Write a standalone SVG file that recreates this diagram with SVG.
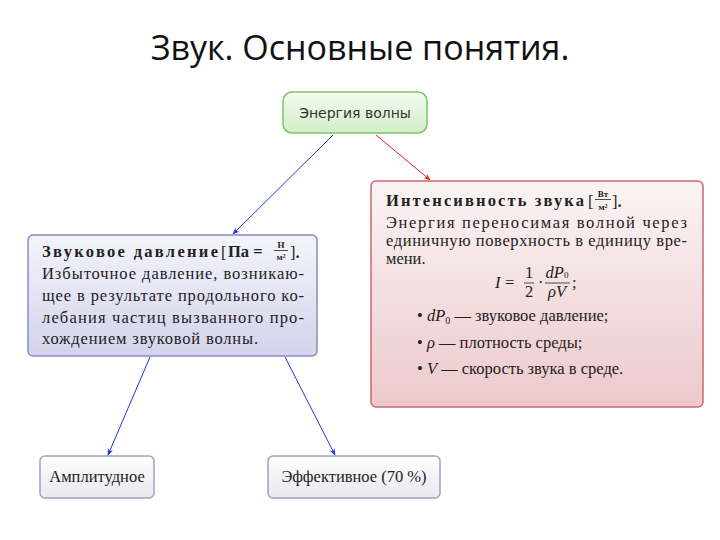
<svg xmlns="http://www.w3.org/2000/svg" width="720" height="540" viewBox="0 0 720 540">
<style>
.s{font-family:"Liberation Serif",serif;font-size:16.5px;fill:#222}
.b{font-weight:bold}
.i{font-style:italic}
.f{font-family:"Liberation Serif",serif;font-size:9px;font-weight:bold;fill:#222}
.n{font-family:"DejaVu Sans","Liberation Sans",sans-serif;font-size:14px;fill:#333}
</style>
<defs>
<linearGradient id="gg" x1="0" y1="0" x2="0" y2="1"><stop offset="0" stop-color="#f3fbf0"/><stop offset="1" stop-color="#d2efc8"/></linearGradient>
<linearGradient id="gr" x1="0" y1="0" x2="0" y2="1"><stop offset="0" stop-color="#fbf4f4"/><stop offset="1" stop-color="#ecc9cc"/></linearGradient>
<linearGradient id="gb" x1="0" y1="0" x2="0" y2="1"><stop offset="0" stop-color="#f4f4fb"/><stop offset="1" stop-color="#d3d3ec"/></linearGradient>
<linearGradient id="gw" x1="0" y1="0" x2="0" y2="1"><stop offset="0" stop-color="#ffffff"/><stop offset="1" stop-color="#e8e8ee"/></linearGradient>
<marker id="ab" viewBox="0 0 10 10" refX="9" refY="5" markerWidth="7" markerHeight="7" orient="auto"><path d="M0,1 L10,5 L0,9 L3,5 Z" fill="#2233dd"/></marker>
<marker id="ar" viewBox="0 0 10 10" refX="9" refY="5" markerWidth="7" markerHeight="7" orient="auto"><path d="M0,1 L10,5 L0,9 L3,5 Z" fill="#dd2222"/></marker>
</defs>
<rect width="720" height="540" fill="#fff"/>
<text x="360" y="60" text-anchor="middle" font-family="'Open Sans',sans-serif" font-size="34" fill="#111">Звук. Основные понятия.</text>
<g id="connectors" fill="none" stroke-width="1">
<line x1="333" y1="135" x2="233" y2="234" stroke="#2233dd" marker-end="url(#ab)"/>
<line x1="376" y1="135" x2="430" y2="180" stroke="#dd2222" marker-end="url(#ar)"/>
<line x1="150" y1="357" x2="108" y2="455" stroke="#2233dd" marker-end="url(#ab)"/>
<line x1="285" y1="357" x2="335" y2="455" stroke="#2233dd" marker-end="url(#ab)"/>
</g>
<g id="energy">
<rect x="283" y="92" width="144" height="41" rx="9" fill="url(#gg)" stroke="#7cc46a" stroke-width="1.5"/>
<text x="355" y="118" text-anchor="middle" class="n">Энергия волны</text>
</g>
<g id="intensity">
<rect x="371" y="181" width="332" height="226" rx="5" fill="url(#gr)" stroke="#c96a70" stroke-width="1.5"/>
<text x="386" y="206" class="s b" font-size="17" textLength="198">Интенсивность звука</text>
<text x="588" y="207" class="s" font-size="20">[</text>
<text x="603" y="197" class="f" text-anchor="middle">Вт</text>
<line x1="595" y1="199.5" x2="611" y2="199.5" stroke="#222" stroke-width="0.8"/>
<text x="603" y="209.5" class="f" text-anchor="middle">м²</text>
<text x="612" y="207" class="s" font-size="20">]<tspan font-weight="bold">.</tspan></text>
<text x="386" y="228" class="s" textLength="301">Энергия переносимая волной через</text>
<text x="386" y="246" class="s" textLength="301">единичную поверхность в единицу вре-</text>
<text x="386" y="264" class="s">мени.</text>
<text x="495" y="288" class="s i">I</text>
<text x="505" y="288" class="s">=</text>
<text x="529" y="278" class="s" font-size="13" text-anchor="middle">1</text>
<line x1="524" y1="283" x2="534" y2="283" stroke="#222" stroke-width="0.8"/>
<text x="529" y="297" class="s" font-size="13" text-anchor="middle">2</text>
<text x="538" y="288" class="s">·</text>
<text x="557" y="278" class="s i" font-size="13" text-anchor="middle">dP<tspan font-size="9" font-style="normal">0</tspan></text>
<line x1="545" y1="283" x2="570" y2="283" stroke="#222" stroke-width="0.8"/>
<text x="557" y="297" class="s i" font-size="13" text-anchor="middle">ρV</text>
<text x="572" y="288" class="s">;</text>
<text x="417" y="321" class="s" font-size="17.5">•  <tspan font-style="italic">dP</tspan><tspan font-size="10" dy="3">0</tspan><tspan dy="-3"> — звуковое давление;</tspan></text>
<text x="417" y="348" class="s" font-size="17.5">•  <tspan font-style="italic">ρ</tspan> — плотность среды;</text>
<text x="417" y="374" class="s" font-size="17.5">•  <tspan font-style="italic">V</tspan> — скорость звука в среде.</text>
</g>
<g id="pressure">
<rect x="28" y="235" width="289" height="121" rx="5" fill="url(#gb)" stroke="#8a8ac8" stroke-width="1.5"/>
<text x="42" y="257" class="s b" font-size="17" textLength="176">Звуковое давление</text>
<text x="221" y="258" class="s" font-size="20">[</text>
<text x="228" y="257" class="s b" font-size="17">Па =</text>
<text x="281" y="247.5" class="f" text-anchor="middle">Н</text>
<line x1="274" y1="250.5" x2="288" y2="250.5" stroke="#222" stroke-width="0.8"/>
<text x="281" y="260" class="f" text-anchor="middle">м²</text>
<text x="290" y="258" class="s" font-size="20">]<tspan font-weight="bold">.</tspan></text>
<text x="42" y="279" class="s" textLength="262">Избыточное давление, возникаю-</text>
<text x="42" y="301" class="s" textLength="262">щее в результате продольного ко-</text>
<text x="42" y="323" class="s" textLength="262">лебания частиц вызванного про-</text>
<text x="42" y="344" class="s" textLength="216">хождением звуковой волны.</text>
</g>
<g id="amplitude">
<rect x="40" y="456" width="114" height="42" rx="5" fill="url(#gw)" stroke="#a0a0c0" stroke-width="1.5"/>
<text x="97" y="482" text-anchor="middle" class="s" font-size="15.5">Амплитудное</text>
</g>
<g id="effective">
<rect x="268" y="456" width="172" height="42" rx="5" fill="url(#gw)" stroke="#a0a0c0" stroke-width="1.5"/>
<text x="354" y="482" text-anchor="middle" class="s" font-size="15.5">Эффективное (70 %)</text>
</g>
</svg>
